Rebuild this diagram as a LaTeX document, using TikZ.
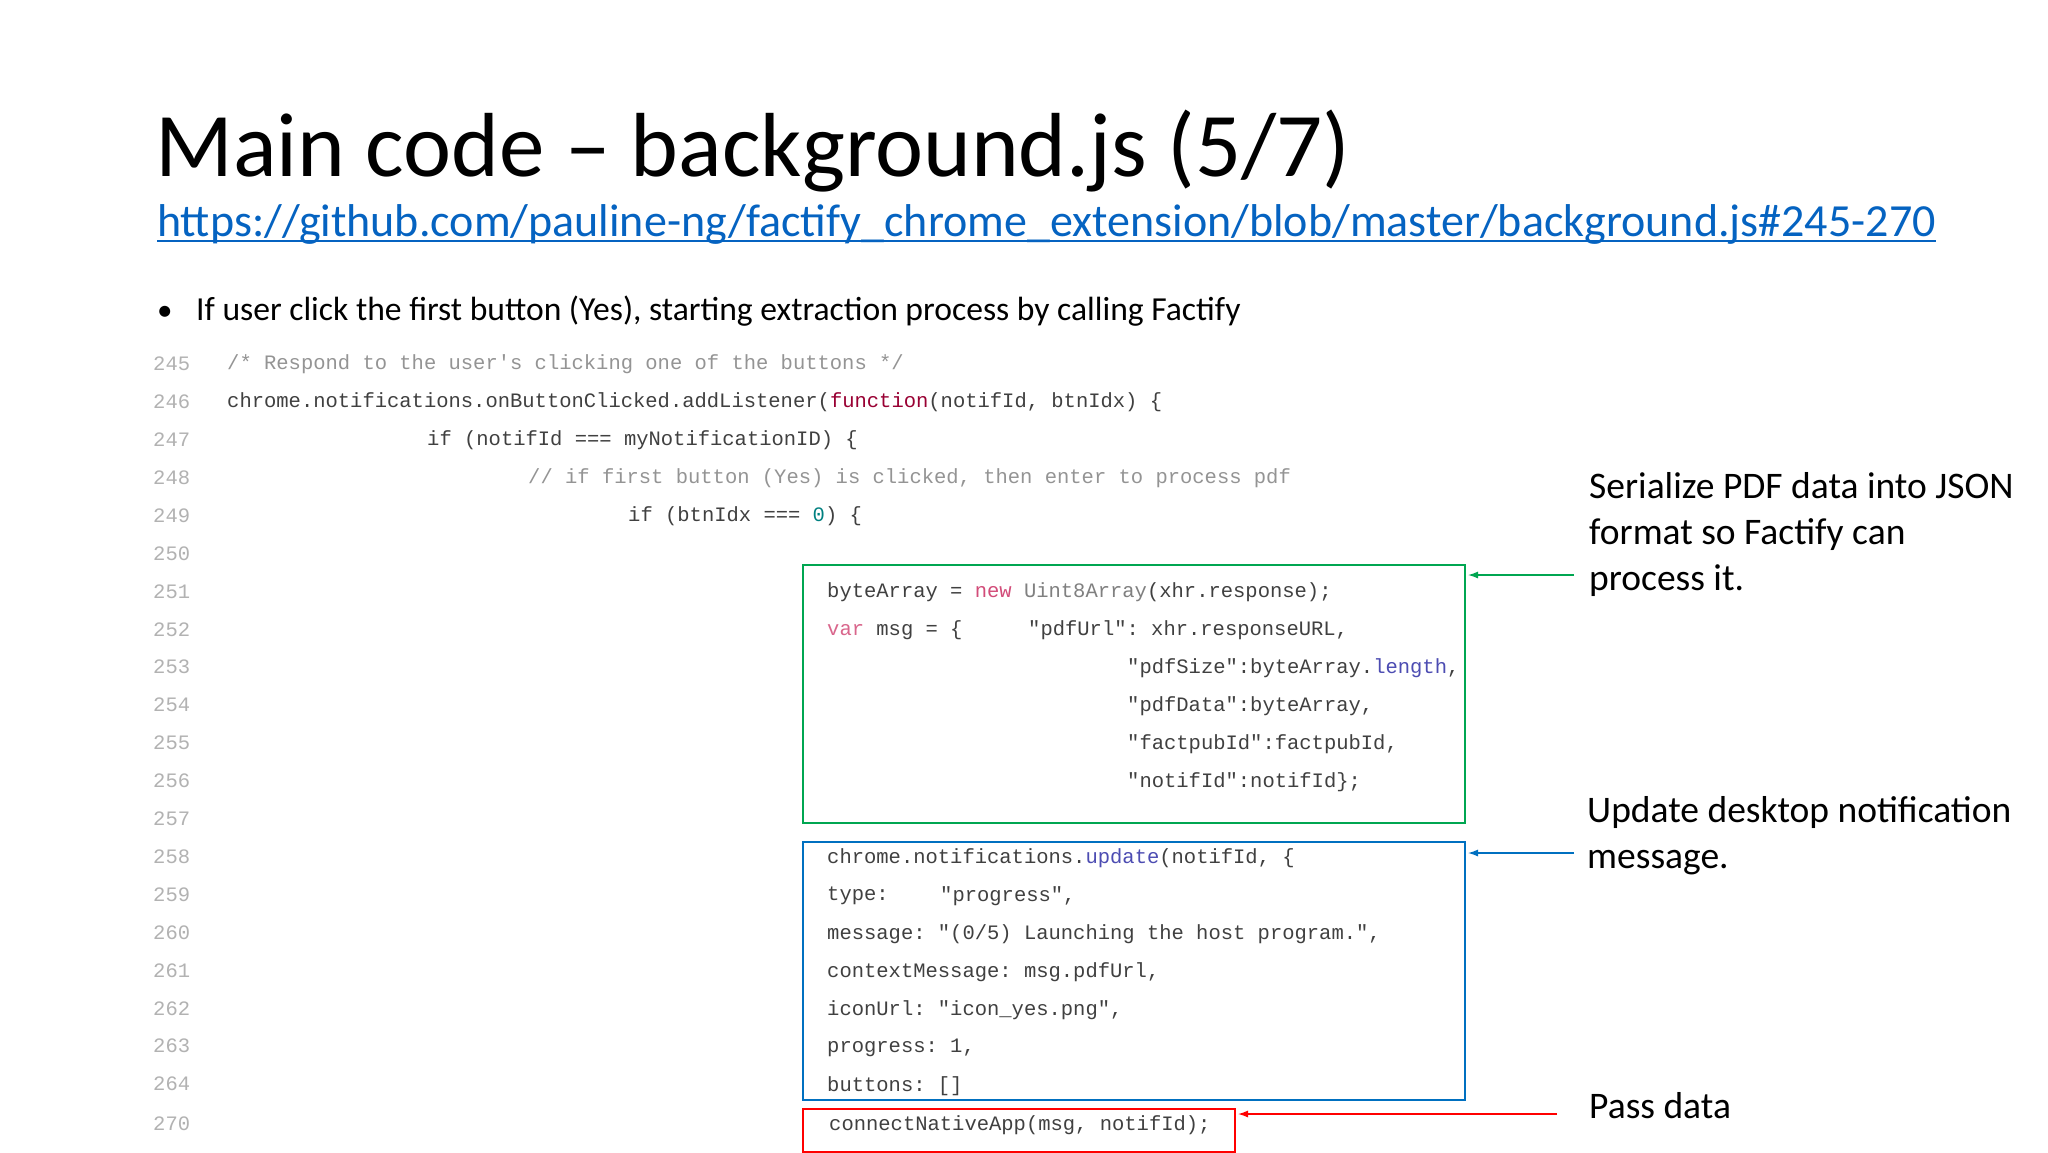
\documentclass[tikz,border=0pt]{standalone}
\usepackage{fontspec}
\usetikzlibrary{arrows.meta}
\setmainfont{Carlito}
\setmonofont{Liberation Mono}
\newfontfamily\lightfont{Carlito}
\definecolor{urlblue}{RGB}{5,99,193}
\definecolor{boxgreen}{RGB}{0,166,81}
\definecolor{boxblue}{RGB}{0,112,192}
\begin{document}
\begin{tikzpicture}[x=1pt,y=-1pt,
  code/.style={anchor=west,inner sep=0pt,font=\fontsize{20.5}{22}\ttfamily,text=black!75},
  lnum/.style={anchor=west,inner sep=0pt,font=\fontsize{20.5}{22}\ttfamily,text=black!30},
  cmt/.style={code,text=black!42},
  note/.style={anchor=west,inner sep=0pt,font=\fontsize{37.5}{46}\selectfont,text=black},
  arr/.style={-{Latex[length=10pt,width=7pt]},line width=1.3pt}]
\useasboundingbox (0,0) rectangle (2048,1152);
\fill[white] (0,0) rectangle (2048,1152);
\node[anchor=base west,inner sep=0pt,font=\fontsize{91}{100}\lightfont,text=black] (title) at (155,176) {Main code – background.js (5/7)};
\node[anchor=base west,inner sep=0pt,font=\fontsize{46}{52}\selectfont,text=urlblue] (url) at (157,236) {https://github.com/pauline-ng/factify\_chrome\_extension/blob/master/background.js\#245-270};
\draw[line width=1.3pt,urlblue] ([yshift=-5pt]url.base west) -- ([yshift=-5pt]url.base east);
\node[anchor=base west,inner sep=0pt,font=\fontsize{31}{36}\selectfont] (bul) at (157,320) {•};
\node[anchor=base west,inner sep=0pt,font=\fontsize{33.6}{38}\selectfont] (btxt) at (196,320) {If user click the first button (Yes), starting extraction process by calling Factify};
% line numbers
\foreach \n [count=\k from 0] in {245,...,264} {
  \node[lnum] (ln\n) at (153,364+37.9*\k) {\n};
}
\node[lnum] (ln270) at (153,1124) {270};
% code
\node[cmt] (c245) at (227,364) {/* Respond to the user's clicking one of the buttons */};
\node[code] (c246) at (227,402) {chrome.notifications.onButtonClicked.addListener(\textcolor{purple!80!black}{function}(notifId, btnIdx) \{};
\node[code] (c247) at (427,440) {if (notifId === myNotificationID) \{};
\node[cmt] (c248) at (528,478) {// if first button (Yes) is clicked, then enter to process pdf};
\node[code] (c249) at (628,516) {if (btnIdx === \textcolor{teal}{0}) \{};
\node[code] (c251) at (827,592) {byteArray = \textcolor{purple!70}{new} \textcolor{black!50}{Uint8Array}(xhr.response);};
\node[code] (c252a) at (827,630) {\textcolor{purple!60}{var} msg = \{};
\node[code] (c252b) at (1028,630) {"pdfUrl": xhr.responseURL,};
\node[code] (c253) at (1127,668) {"pdfSize":byteArray.\textcolor{blue!40!gray}{length},};
\node[code] (c254) at (1127,706) {"pdfData":byteArray,};
\node[code] (c255) at (1127,744) {"factpubId":factpubId,};
\node[code] (c256) at (1127,782) {"notifId":notifId\};};
\node[code] (c258) at (827,858) {chrome.notifications.\textcolor{blue!40!gray}{update}(notifId, \{};
\node[code] (c259a) at (827,896) {type:};
\node[code] (c259b) at (940,896) {"progress",};
\node[code] (c260) at (827,934) {message: "(0/5) Launching the host program.",};
\node[code] (c261) at (827,972) {contextMessage: msg.pdfUrl,};
\node[code] (c262) at (827,1010) {iconUrl: "icon\_yes.png",};
\node[code] (c263) at (827,1048) {progress: 1,};
\node[code] (c264) at (827,1086) {buttons: []};
\node[code] (c270) at (829,1125) {connectNativeApp(msg, notifId);};
% boxes
\draw[line width=1.6pt,boxgreen] (803,565) rectangle (1465,823);
\draw[line width=1.6pt,boxblue] (803,842) rectangle (1465,1100);
\draw[line width=1.6pt,red] (803,1109) rectangle (1235,1152);
\coordinate (gb) at (1468,575);
\coordinate (bb) at (1468,853);
\coordinate (rb) at (1238,1114);
% notes
\node[note,align=left,anchor=base west] (n1) at (1589,590) {Serialize PDF data into JSON\\format so Factify can\\process it.};
\node[note,align=left,anchor=base west] (n2) at (1587,868) {Update desktop notification\\message.};
\node[note] (n3) at (1589,1106) {Pass data};
\coordinate (ga) at (1574,575);
\coordinate (ba) at (1574,853);
\coordinate (ra) at (1557,1114);
\draw[arr,boxgreen] (ga) -- (gb);
\draw[arr,boxblue] (ba) -- (bb);
\draw[arr,red] (ra) -- (rb);
\end{tikzpicture}
\end{document}
